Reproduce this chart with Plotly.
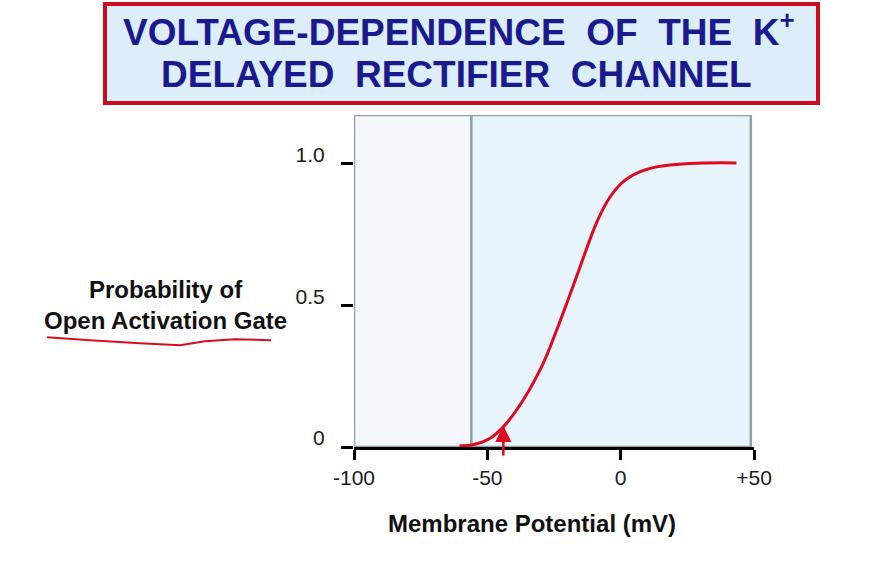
import plotly.graph_objects as go

# ---- data ----
membrane_mv = [-60.4, -55.4, -49.1, -44.1, -36.6, -29.1, -24.1, -19.1, -14.1, -9.1, -4.1, 0.9, 7.1, 13.4, 25.9, 43.4]
open_prob = [0.004, 0.008, 0.03, 0.07, 0.165, 0.294, 0.41, 0.535, 0.665, 0.79, 0.88, 0.935, 0.97, 0.988, 1.0, 1.002]
x_tick_vals = [-100, -50, 0, 50]
x_tick_text = ["-100", "-50", "0", "+50"]
y_tick_vals = [0, 0.5, 1.0]
y_tick_text = ["0", "0.5", "1.0"]
resting_mv = -56
box_x = [-100, 48.8]
box_y = [0, 1.171]

W, H = 870, 562
L, T = 354, 115
R = W - 754
B = H - 446.7
PW, PH = W - L - R, H - T - B


def px(x):
    return (x - L) / PW


def py(y):
    return (H - B - y) / PH


FONT = "Arial, Liberation Sans, sans-serif"
RED = "#dd0a20"
GRAY = "#8fa3a3"

fig = go.Figure()
fig.add_trace(go.Scatter(x=membrane_mv, y=open_prob, mode="lines",
                         line=dict(color=RED, width=3, shape="spline", smoothing=1.0),
                         hoverinfo="skip", showlegend=False))

shapes = [
    dict(type="rect", xref="x", yref="y", x0=box_x[0], x1=resting_mv, y0=box_y[0], y1=box_y[1],
         fillcolor="#f5f7fc", line=dict(width=0), layer="below"),
    dict(type="rect", xref="x", yref="y", x0=resting_mv, x1=box_x[1], y0=box_y[0], y1=box_y[1],
         fillcolor="#e7f4fc", line=dict(width=0), layer="below"),
    dict(type="rect", xref="x", yref="y", x0=box_x[0], x1=box_x[1], y0=box_y[0], y1=box_y[1],
         line=dict(color=GRAY, width=2.5), layer="below"),
    dict(type="line", xref="x", yref="y", x0=resting_mv, x1=resting_mv, y0=box_y[0], y1=box_y[1],
         line=dict(color=GRAY, width=2.5), layer="below"),
    # title box
    dict(type="rect", xref="paper", yref="paper", x0=px(105), x1=px(818), y0=py(103), y1=py(4),
         fillcolor="#dceefa", line=dict(color="#cc0a1e", width=4)),
]

# hand-drawn underline beneath the y label
ul = [(47, 337), (90, 340), (140, 343), (180, 345), (205, 341), (235, 339), (271, 340)]
path = "M " + " L ".join(f"{px(a):.4f},{py(b):.4f}" for a, b in ul)
shapes.append(dict(type="path", xref="paper", yref="paper", path=path,
                   line=dict(color=RED, width=2)))

annotations = [
    dict(text="<b>VOLTAGE-DEPENDENCE  OF  THE  K<sup>+</sup></b>", xref="paper", yref="paper",
         x=px(459), y=py(30), showarrow=False, font=dict(family=FONT, size=37, color="#1a1a8e"),
         xanchor="center", yanchor="middle"),
    dict(text="<b>DELAYED  RECTIFIER  CHANNEL</b>", xref="paper", yref="paper",
         x=px(456), y=py(75), showarrow=False, font=dict(family=FONT, size=37, color="#1a1a8e"),
         xanchor="center", yanchor="middle"),
    dict(text="<b>Membrane Potential (mV)</b>", xref="paper", yref="paper",
         x=px(532), y=py(523), showarrow=False, font=dict(family=FONT, size=24, color="#111"),
         xanchor="center", yanchor="middle"),
    dict(text="<b>Probability of</b><br><b>Open Activation Gate</b>", xref="paper", yref="paper",
         x=px(165), y=py(305), showarrow=False, font=dict(family=FONT, size=24, color="#111"),
         xanchor="center", yanchor="middle", align="center"),
    # hand-drawn arrow
    dict(x=-44, y=0.075, ax=-44, ay=-0.035, xref="x", yref="y", axref="x", ayref="y",
         showarrow=True, arrowhead=2, arrowsize=1.3, arrowwidth=2.5, arrowcolor=RED, text=""),
]

fig.update_layout(
    width=W, height=H,
    margin=dict(l=L, r=R, t=T, b=B, pad=0),
    paper_bgcolor="white", plot_bgcolor="white",
    shapes=shapes, annotations=annotations,
    xaxis=dict(range=[-100, 50], tickvals=x_tick_vals, ticktext=x_tick_text,
               showgrid=False, zeroline=False, showline=True, linecolor="black", linewidth=3,
               ticks="outside", ticklen=10, tickwidth=3, tickcolor="black",
               tickfont=dict(family=FONT, size=21, color="#1a1a1a"), ticklabelstandoff=0),
    yaxis=dict(range=[0, 1.171], tickvals=y_tick_vals, ticktext=y_tick_text,
               showgrid=False, zeroline=False, showline=False,
               ticks="outside", ticklen=12, tickwidth=3, tickcolor="black",
               tickfont=dict(family=FONT, size=21, color="#1a1a1a"),
               ticklabelstandoff=12, ticklabelshift=-9),
)

fig.write_html("out.html", config={"displayModeBar": False},
               post_script="document.body.style.margin='0';")
